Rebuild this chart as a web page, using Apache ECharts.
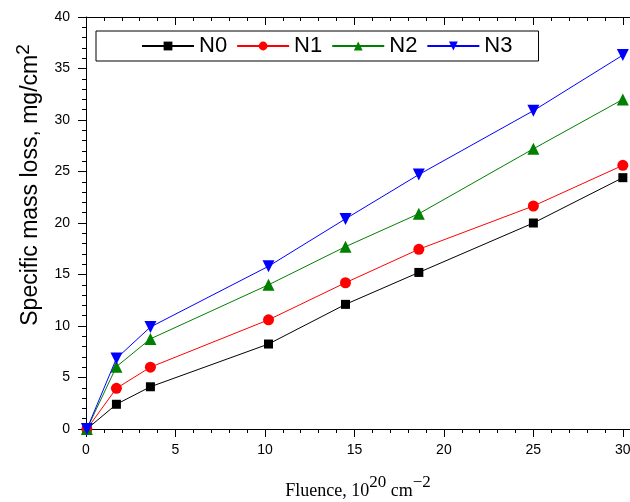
<!DOCTYPE html>
<html>
<head>
<meta charset="utf-8">
<script src="https://cdn.jsdelivr.net/npm/echarts@6/dist/echarts.min.js"></script>
<style>
  html, body { margin: 0; padding: 0; background: #fff; }
  #chart { width: 630px; height: 502px; }
</style>
</head>
<body>
<div id="chart"></div>
<script>
// fluence values (10^20 cm^-2)
var fluence = [0.05, 1.7, 3.6, 10.2, 14.5, 18.6, 25, 30];
// specific mass loss, mg/cm^2
var n0 = [0, 2.4, 4.1, 8.25, 12.1, 15.2, 20.0, 24.4];
var n1 = [0, 3.95, 6.0, 10.6, 14.2, 17.45, 21.65, 25.6];
var n2 = [0, 6.05, 8.75, 14.0, 17.7, 20.9, 27.2, 32.0];
var n3 = [0, 6.85, 9.9, 15.8, 20.4, 24.7, 30.9, 36.3];

var names = ["N0", "N1", "N2", "N3"];
var colors = ["#000000", "#ff0000", "#008000", "#0000ff"];
var symbols = ["rect", "circle", "triangle", "triangle"];
var sizes = [9, 11, 12, 12];
var rotates = [0, 0, 0, 180];
var values = [n0, n1, n2, n3];

function pairs(ys) {
    return fluence.map(function (x, i) { return [x, ys[i]]; });
}

var myChart = echarts.init(document.getElementById("chart"));

var series = names.map(function (n, k) {
    return {
        name: n,
        type: "line",
        data: pairs(values[k]),
        symbol: symbols[k],
        symbolSize: sizes[k],
        symbolRotate: rotates[k],
        showAllSymbol: true,
        itemStyle: { color: colors[k] },
        lineStyle: { color: colors[k], width: 1 },
        z: 2 + k,
        animation: false
    };
});

var axisBase = {
    axisLine: { show: true, lineStyle: { color: "#000", width: 1 } },
    axisTick: { show: true, length: 8, lineStyle: { color: "#000" } },
    minorTick: { show: true, splitNumber: 5, length: 4, lineStyle: { color: "#000" } },
    splitLine: { show: false },
    minorSplitLine: { show: false }
};

var option = {
    backgroundColor: "#fff",
    animation: false,
    grid: { left: 86, right: 0, top: 17, bottom: 73, outerBoundsMode: "none", containLabel: false },
    legend: {
        data: names,
        left: 96,
        top: 31,
        itemWidth: 52,
        itemHeight: 11,
        itemGap: 9,
        padding: [4, 26, 4, 45],
        borderColor: "#000",
        borderWidth: 1,
        backgroundColor: "#fff",
        textStyle: { fontFamily: "Liberation Sans", fontSize: 22, color: "#000" }
    },
    xAxis: [
        Object.assign({}, axisBase, {
            type: "value",
            min: 0,
            max: 30.4,
            interval: 5,
            name: "{t|Fluence, 10}{s|20}{t| cm}{s|\u22122}",
            nameLocation: "middle",
            nameGap: 45,
            nameTextStyle: {
                rich: {
                    t: { fontFamily: "Liberation Serif", fontSize: 18, color: "#000", verticalAlign: "bottom" },
                    s: { fontFamily: "Liberation Serif", fontSize: 17, color: "#000", verticalAlign: "bottom", padding: [0, 0, 9, 0] }
                }
            },
            axisLabel: {
                margin: 14,
                fontFamily: "Liberation Sans",
                fontSize: 14,
                color: "#000",
                formatter: function (v) { return v % 5 === 0 ? v : ""; }
            }
        }),
        Object.assign({}, axisBase, {
            type: "value",
            position: "top",
            min: 0,
            max: 30.4,
            interval: 5,
            axisTick: { show: true, inside: true, length: 8, lineStyle: { color: "#000" } },
            minorTick: { show: true, inside: true, splitNumber: 5, length: 4, lineStyle: { color: "#000" } },
            axisLabel: { show: false }
        })
    ],
    yAxis: Object.assign({}, axisBase, {
        type: "value",
        min: 0,
        max: 40,
        interval: 5,
        name: "{t|Specific mass loss, mg/cm}{s|2}",
        nameLocation: "middle",
        nameGap: 44,
        nameTextStyle: {
            padding: [0, 0, 0, 76],
            rich: {
                t: { fontFamily: "Liberation Sans", fontSize: 23, color: "#000", verticalAlign: "bottom" },
                s: { fontFamily: "Liberation Sans", fontSize: 19, color: "#000", verticalAlign: "bottom", padding: [0, 0, 9, 0] }
            }
        },
        axisLabel: {
            margin: 16,
            fontFamily: "Liberation Sans",
            fontSize: 14,
            color: "#000"
        }
    }),
    series: series
};

myChart.setOption(option);
</script>
</body>
</html>
